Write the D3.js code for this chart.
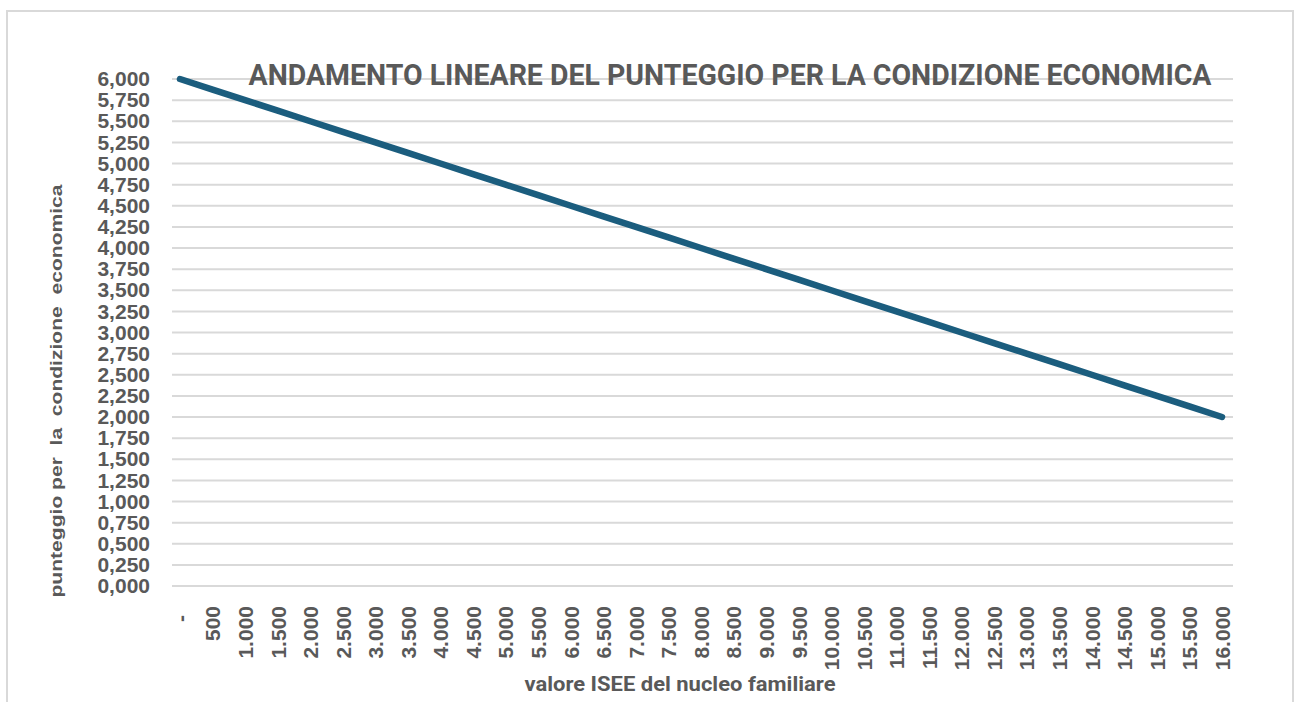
<!DOCTYPE html>
<html>
<head>
<meta charset="utf-8">
<script src="https://cdn.jsdelivr.net/npm/d3@7"></script>
<style>
  html, body { margin: 0; padding: 0; background: #fff; }
  svg { display: block; }
</style>
</head>
<body>
<svg id="chart" width="1299" height="702"></svg>
<script>
// categories on the x axis (valore ISEE)
const isee = ['-', '500', '1.000', '1.500', '2.000', '2.500', '3.000', '3.500', '4.000', '4.500',
  '5.000', '5.500', '6.000', '6.500', '7.000', '7.500', '8.000', '8.500', '9.000', '9.500',
  '10.000', '10.500', '11.000', '11.500', '12.000', '12.500', '13.000', '13.500', '14.000',
  '14.500', '15.000', '15.500', '16.000']

// punteggio
const punteggio = [6.000, 5.875, 5.750, 5.625, 5.500, 5.375, 5.250, 5.125, 5.000, 4.875,
  4.750, 4.625, 4.500, 4.375, 4.250, 4.125, 4.000, 3.875, 3.750, 3.625,
  3.500, 3.375, 3.250, 3.125, 3.000, 2.875, 2.750, 2.625, 2.500,
  2.375, 2.250, 2.125, 2.000]

const yTicks = [0, 0.25, 0.5, 0.75, 1, 1.25, 1.5, 1.75, 2, 2.25, 2.5, 2.75, 3,
  3.25, 3.5, 3.75, 4, 4.25, 4.5, 4.75, 5, 5.25, 5.5, 5.75, 6]

const title = 'ANDAMENTO LINEARE DEL PUNTEGGIO PER LA CONDIZIONE ECONOMICA'
const xTitle = 'valore ISEE del nucleo familiare'
const yTitle = 'punteggio per  la  condizione  economica'

const grey = '#595959'
const svg = d3.select('#chart')

// chart frame
svg.append('rect')
  .attr('x', 7).attr('y', 11)
  .attr('width', 1286).attr('height', 720)
  .attr('fill', 'none')
  .attr('stroke', '#d9d9d9')
  .attr('stroke-width', 2)

let y = d3.scaleLinear()
  .domain([0, 6])
  .range([586, 79])

let x = d3.scalePoint()
  .domain(isee)
  .range([180, 1222])

const fmtY = d => d3.format('.3f')(d).replace('.', ',')

// gridlines
svg.append('g')
  .selectAll('line')
  .data(yTicks)
  .join('line')
    .attr('x1', 172).attr('x2', 1233)
    .attr('y1', d => y(d)).attr('y2', d => y(d))
    .attr('stroke', '#d9d9d9')
    .attr('stroke-width', 2)

// y axis labels
let yAxis = d3.axisLeft(y)
  .tickValues(yTicks)
  .tickFormat(fmtY)
  .tickSize(0)
  .tickPadding(0)
let gy = svg.append('g')
  .attr('transform', 'translate(150, 0)')
  .call(yAxis)
gy.select('.domain').remove()
gy.selectAll('text')
  .attr('fill', grey)
  .attr('font-family', 'Liberation Sans, Arial, sans-serif')
  .attr('font-weight', 'bold')
  .attr('font-size', 21)

// x axis labels (rotated)
let xAxis = d3.axisBottom(x).tickSize(0).tickPadding(0)
let gx = svg.append('g')
  .attr('transform', 'translate(0, 606)')
  .call(xAxis)
gx.select('.domain').remove()
gx.selectAll('text')
  .attr('fill', grey)
  .attr('font-family', 'Liberation Sans, Arial, sans-serif')
  .attr('font-weight', 'bold')
  .attr('font-size', 21)
  .attr('text-anchor', 'end')
  .attr('transform', 'rotate(-90)')
  .attr('x', d => d === '-' ? -9 : 0)
  .attr('y', 0)
  .attr('dy', '0.35em')

// the line
let line = d3.line()
  .x((d, i) => x(isee[i]))
  .y(d => y(d))

svg.append('path')
  .datum(punteggio)
  .attr('d', line)
  .attr('fill', 'none')
  .attr('stroke', '#1b5d7e')
  .attr('stroke-width', 6.5)
  .attr('stroke-linecap', 'round')
  .attr('stroke-linejoin', 'round')

// titles
svg.append('text')
  .attr('x', 730).attr('y', 85)
  .attr('text-anchor', 'middle')
  .attr('fill', grey)
  .attr('font-family', 'Roboto, sans-serif')
  .attr('font-weight', 700)
  .attr('font-size', 29)
  .attr('textLength', 963)
  .attr('lengthAdjust', 'spacingAndGlyphs')
  .text(title)

svg.append('text')
  .attr('x', 680).attr('y', 691)
  .attr('text-anchor', 'middle')
  .attr('fill', grey)
  .attr('font-family', 'Roboto, sans-serif')
  .attr('font-weight', 700)
  .attr('font-size', 20)
  .attr('textLength', 311)
  .attr('lengthAdjust', 'spacingAndGlyphs')
  .text(xTitle)

svg.append('text')
  .attr('transform', 'translate(62, 391) rotate(-90)')
  .attr('text-anchor', 'middle')
  .attr('fill', grey)
  .attr('font-family', 'Liberation Sans, Arial, sans-serif')
  .attr('font-weight', 'bold')
  .attr('font-size', 17)
  .attr('textLength', 413)
  .attr('lengthAdjust', 'spacingAndGlyphs')
  .style('white-space', 'pre')
  .text(yTitle)
</script>
</body>
</html>
